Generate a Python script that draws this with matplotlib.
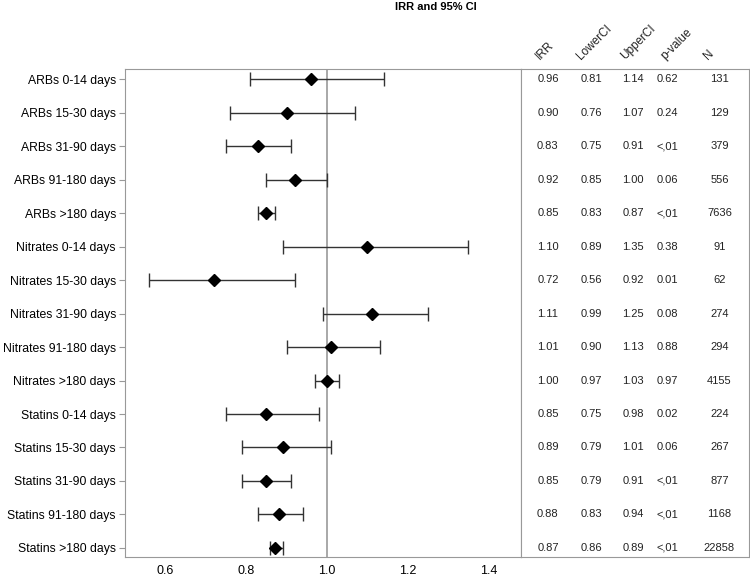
import numpy as np
import matplotlib.pyplot as plt

plt.rcParams['font.family'] = ['Liberation Sans', 'DejaVu Sans']

# data
labels = ["ARBs 0-14 days", "ARBs 15-30 days", "ARBs 31-90 days", "ARBs 91-180 days", "ARBs >180 days",
          "Nitrates 0-14 days", "Nitrates 15-30 days", "Nitrates 31-90 days", "Nitrates 91-180 days", "Nitrates >180 days",
          "Statins 0-14 days", "Statins 15-30 days", "Statins 31-90 days", "Statins 91-180 days", "Statins >180 days"]
irr = [0.96, 0.90, 0.83, 0.92, 0.85, 1.10, 0.72, 1.11, 1.01, 1.00, 0.85, 0.89, 0.85, 0.88, 0.87]
lower = [0.81, 0.76, 0.75, 0.85, 0.83, 0.89, 0.56, 0.99, 0.90, 0.97, 0.75, 0.79, 0.79, 0.83, 0.86]
upper = [1.14, 1.07, 0.91, 1.00, 0.87, 1.35, 0.92, 1.25, 1.13, 1.03, 0.98, 1.01, 0.91, 0.94, 0.89]
pval = ["0.62", "0.24", "<,01", "0.06", "<,01", "0.38", "0.01", "0.08", "0.88", "0.97",
        "0.02", "0.06", "<,01", "<,01", "<,01"]
n = [131, 129, 379, 556, 7636, 91, 62, 274, 294, 4155, 224, 267, 877, 1168, 22858]
headers = ["IRR", "LowerCI", "UpperCI", "p-value", "N"]
xticks = [0.6, 0.8, 1.0, 1.2, 1.4]

irr = np.array(irr)
lower = np.array(lower)
upper = np.array(upper)
y = np.arange(len(labels))

fig = plt.figure(figsize=(7.5, 5.76), dpi=100)
ax = fig.add_axes([0.1667, 0.033, 0.528, 0.847])
tab = fig.add_axes([0.6947, 0.033, 0.304, 0.847], sharey=ax)

edge = '#999999'

ax.axvline(1.0, color='#999999', lw=1.2, zorder=1)
ax.errorbar(irr, y, xerr=[irr - lower, upper - irr], fmt='none', ecolor='#333333',
            elinewidth=1.0, capsize=5, capthick=1.0, zorder=2)
ax.plot(irr, y, 'D', color='black', markersize=6.5, zorder=3)

ax.set_xlim(0.50, 1.48)
ax.set_ylim(len(labels) - 1 + 0.27, -0.3)
ax.set_yticks(y)
ax.set_yticklabels(labels, fontsize=8.8)
ax.set_xticks(xticks)
ax.set_xticklabels([f"{t:.1f}" for t in xticks], fontsize=9)
ax.tick_params(axis='x', length=0, pad=6)
ax.tick_params(axis='y', length=4.5, color=edge, pad=2)
for s in ax.spines.values():
    s.set_color(edge)

# table panel
tab.set_xlim(0, 1)
cols = [0.118, 0.307, 0.491, 0.645, 0.87]
for i in range(len(labels)):
    vals = [f"{irr[i]:.2f}", f"{lower[i]:.2f}", f"{upper[i]:.2f}", pval[i], str(n[i])]
    for j, (cx, v) in enumerate(zip(cols, vals)):
        if j == 3:
            tab.text(0.594, i, v, ha='left', va='center', fontsize=8, color='#222222')
        else:
            tab.text(cx, i, v, ha='center', va='center', fontsize=8, color='#222222')
hx = [0.092, 0.272, 0.465, 0.64, 0.829]
for cx, h in zip(hx, headers):
    tab.text(cx, -0.5, h, ha='left', va='bottom', rotation=45, fontsize=8.5,
             rotation_mode='anchor', color='#222222', clip_on=False)
tab.set_xticks([])
tab.tick_params(axis='y', left=False, labelleft=False)
for s in tab.spines.values():
    s.set_color(edge)

fig.text(0.581, 0.988, "IRR and 95% CI", ha='center', va='center', fontsize=8, fontweight='bold')

fig.savefig("out.png", dpi=100)
